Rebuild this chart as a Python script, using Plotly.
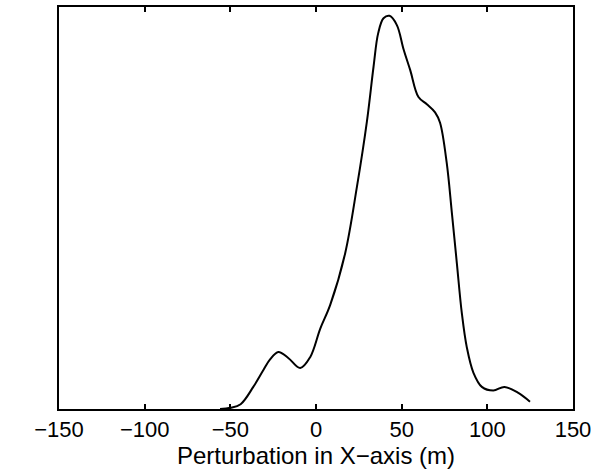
import plotly.graph_objects as go

# Density curve (x in metres, y normalised to axis height)
x_vals = [-56, -50, -44, -36.6, -30.7, -26.7, -22, -16.2, -9.2, -3.4, 2.5, 8.3,
          17.0, 23.9, 29.7, 33.6, 36.3, 39.4, 42.9, 47.2, 51.1,
          55, 59.8, 64.7, 69.5, 72.4, 76.3, 79.3, 82.2, 85.1, 88, 91.9, 96.8,
          103.5, 110, 118.1, 124.9]
y_vals = [0.0, 0.003, 0.012, 0.055, 0.097, 0.124, 0.142, 0.127, 0.102, 0.129,
          0.2, 0.259, 0.387, 0.553, 0.715, 0.852, 0.935,
          0.972, 0.978, 0.955, 0.895, 0.843, 0.776, 0.758, 0.738, 0.712, 0.612,
          0.488, 0.363, 0.239, 0.154, 0.09, 0.055, 0.046, 0.055, 0.04, 0.018]

tick_vals = [-150, -100, -50, 0, 50, 100, 150]
tick_text = ["\u2212150", "\u2212100", "\u221250", "0", "50", "100", "150"]
x_title = "Perturbation in X\u2212axis (m)"

fig = go.Figure()
fig.add_trace(go.Scatter(
    x=x_vals, y=y_vals, mode="lines",
    line=dict(color="black", width=2, shape="spline", smoothing=1.0),
    showlegend=False, hoverinfo="skip"))

font_family = "Liberation Sans, Arial, Helvetica, sans-serif"
fig.update_layout(
    width=612, height=470,
    margin=dict(l=59, r=39, t=7, b=61),
    paper_bgcolor="white", plot_bgcolor="white",
    font=dict(family=font_family, color="black", size=24),
    xaxis=dict(
        range=[-150, 150], tickvals=tick_vals, ticktext=tick_text,
        ticks="inside", ticklen=5, tickwidth=1.5, tickcolor="black",
        showline=True, linecolor="black", linewidth=2, mirror="ticks",
        showgrid=False, zeroline=False,
        tickfont=dict(size=22, family=font_family),
        title=dict(text=x_title, font=dict(size=24, family=font_family), standoff=0),
        automargin=False,
    ),
    yaxis=dict(
        range=[0, 1], showticklabels=False, ticks="",
        showline=True, linecolor="black", linewidth=2, mirror=True,
        showgrid=False, zeroline=False,
    ),
)

fig.write_html("out.html", config={"displayModeBar": False},
               post_script="document.body.style.margin='0';document.body.style.padding='0';")
